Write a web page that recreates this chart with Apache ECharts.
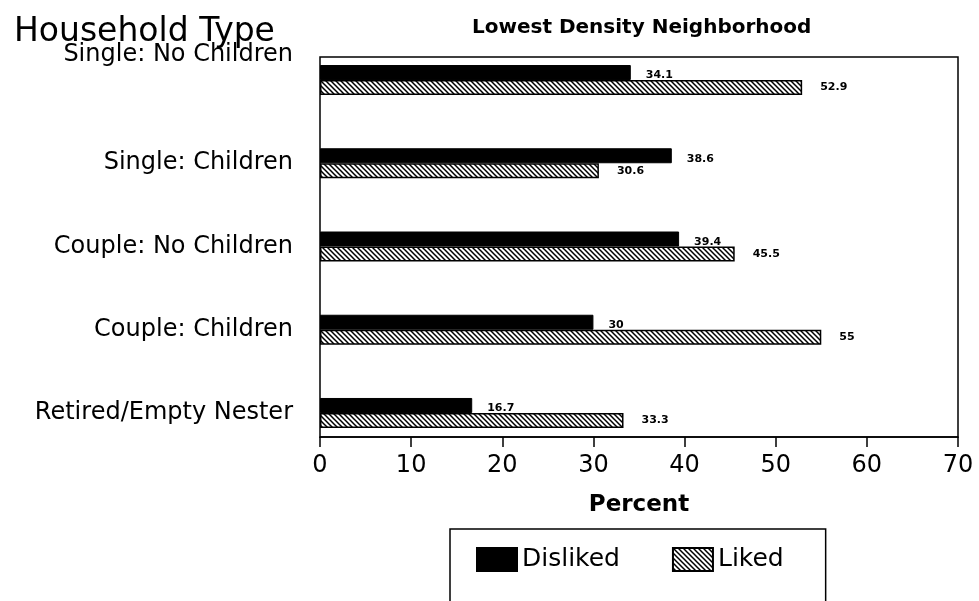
<!DOCTYPE html>
<html>
<head>
<meta charset="utf-8">
<style>
  html, body { margin: 0; padding: 0; background: #fff; }
  #chart { width: 979px; height: 601px; }
</style>
<script src="https://cdn.jsdelivr.net/npm/echarts@6/dist/echarts.min.js"></script>
</head>
<body>
<div id="chart"></div>
<script>
// Household types, listed top to bottom
const categories = [
  'Single: No Children',
  'Single: Children',
  'Couple: No Children',
  'Couple: Children',
  'Retired/Empty Nester'
];
// Percent of respondents per household type
const disliked = [34.1, 38.6, 39.4, 30, 16.7];
const liked = [52.9, 30.6, 45.5, 55, 33.3];
const seriesNames = ['Disliked', 'Liked'];
const percentTicks = { min: 0, max: 70, interval: 10 };

const FONT = 'DejaVu Sans';

// Back-slash hatch tile for the "Liked" bars
function hatchTile() {
  const s = 5;
  const c = document.createElement('canvas');
  c.width = s; c.height = s;
  const g = c.getContext('2d');
  g.fillStyle = '#fff';
  g.fillRect(0, 0, s, s);
  g.strokeStyle = '#000';
  g.lineWidth = 1.5;
  g.beginPath();
  g.moveTo(-1, -1); g.lineTo(s + 1, s + 1);
  g.moveTo(-1, s - 1); g.lineTo(1, s + 1);
  g.moveTo(s - 1, -1); g.lineTo(s + 1, 1);
  g.stroke();
  return c;
}

const chart = echarts.init(document.getElementById('chart'), null, { renderer: 'canvas' });

const option = {
  backgroundColor: '#fff',
  animation: false,
  title: [
    {
      text: 'Household Type',
      left: 9, top: 11,
      textStyle: { fontFamily: FONT, fontSize: 33, fontWeight: 'normal', color: '#000' }
    },
    {
      text: 'Lowest Density Neighborhood',
      left: 467, top: 13,
      textStyle: { fontFamily: FONT, fontSize: 20, fontWeight: 'bold', color: '#000' }
    }
  ],
  legend: {
    data: seriesNames,
    left: 450, top: 529,
    orient: 'horizontal',
    icon: 'rect',
    itemWidth: 40, itemHeight: 23, itemGap: 52,
    borderColor: '#000', borderWidth: 1.5, borderRadius: 0,
    padding: [18, 42, 60, 26],
    textStyle: { fontFamily: FONT, fontSize: 25, color: '#000' }
  },
  grid: [
    // bars
    { left: 320, right: 21, top: 38.4, bottom: 146.4, containLabel: false },
    // frame and percent axis
    { left: 320, right: 21, top: 57, bottom: 164, show: true, borderColor: '#000', borderWidth: 1.5, backgroundColor: 'transparent' }
  ],
  xAxis: [
    { gridIndex: 0, type: 'value', min: percentTicks.min, max: percentTicks.max, interval: percentTicks.interval, show: false },
    {
      gridIndex: 1, type: 'value',
      min: percentTicks.min, max: percentTicks.max, interval: percentTicks.interval,
      name: 'Percent', nameLocation: 'middle', nameGap: 57,
      nameTextStyle: { fontFamily: FONT, fontSize: 23, fontWeight: 'bold', color: '#000' },
      axisLine: { show: true, lineStyle: { color: '#000', width: 1.5 } },
      axisTick: { show: true, length: 10, lineStyle: { color: '#000', width: 1.5 } },
      axisLabel: { fontFamily: FONT, fontSize: 24, color: '#000', margin: 17 },
      splitLine: { show: false }
    }
  ],
  yAxis: [
    {
      gridIndex: 0, type: 'category', data: categories, inverse: true,
      axisLine: { show: false }, axisTick: { show: false }, splitLine: { show: false },
      axisLabel: {
        fontFamily: FONT, fontSize: 24, color: '#000', margin: 27,
        formatter: (v, i) => (i === 0 ? '{up|' + v + '}' : v),
        rich: { up: { fontFamily: FONT, fontSize: 24, color: '#000', padding: [0, 0, 50, 0] } }
      }
    },
    { gridIndex: 1, type: 'value', show: false }
  ],
  series: [
    {
      name: seriesNames[0], type: 'bar',
      xAxisIndex: 0, yAxisIndex: 0,
      data: disliked,
      barWidth: 15, barGap: '0%',
      itemStyle: { color: '#000', borderColor: '#000', borderWidth: 1 },
      label: {
        show: true, position: 'right', distance: 15, offset: [0, 3],
        fontFamily: FONT, fontSize: 11, fontWeight: 'bold', color: '#000'
      }
    },
    {
      name: seriesNames[1], type: 'bar',
      xAxisIndex: 0, yAxisIndex: 0,
      data: liked,
      barWidth: 15, barGap: '0%',
      itemStyle: { color: { image: hatchTile(), repeat: 'repeat' }, borderColor: '#000', borderWidth: 1.5 },
      label: {
        show: true, position: 'right', distance: 18,
        fontFamily: FONT, fontSize: 11, fontWeight: 'bold', color: '#000'
      }
    }
  ]
};

chart.setOption(option);
</script>
</body>
</html>
